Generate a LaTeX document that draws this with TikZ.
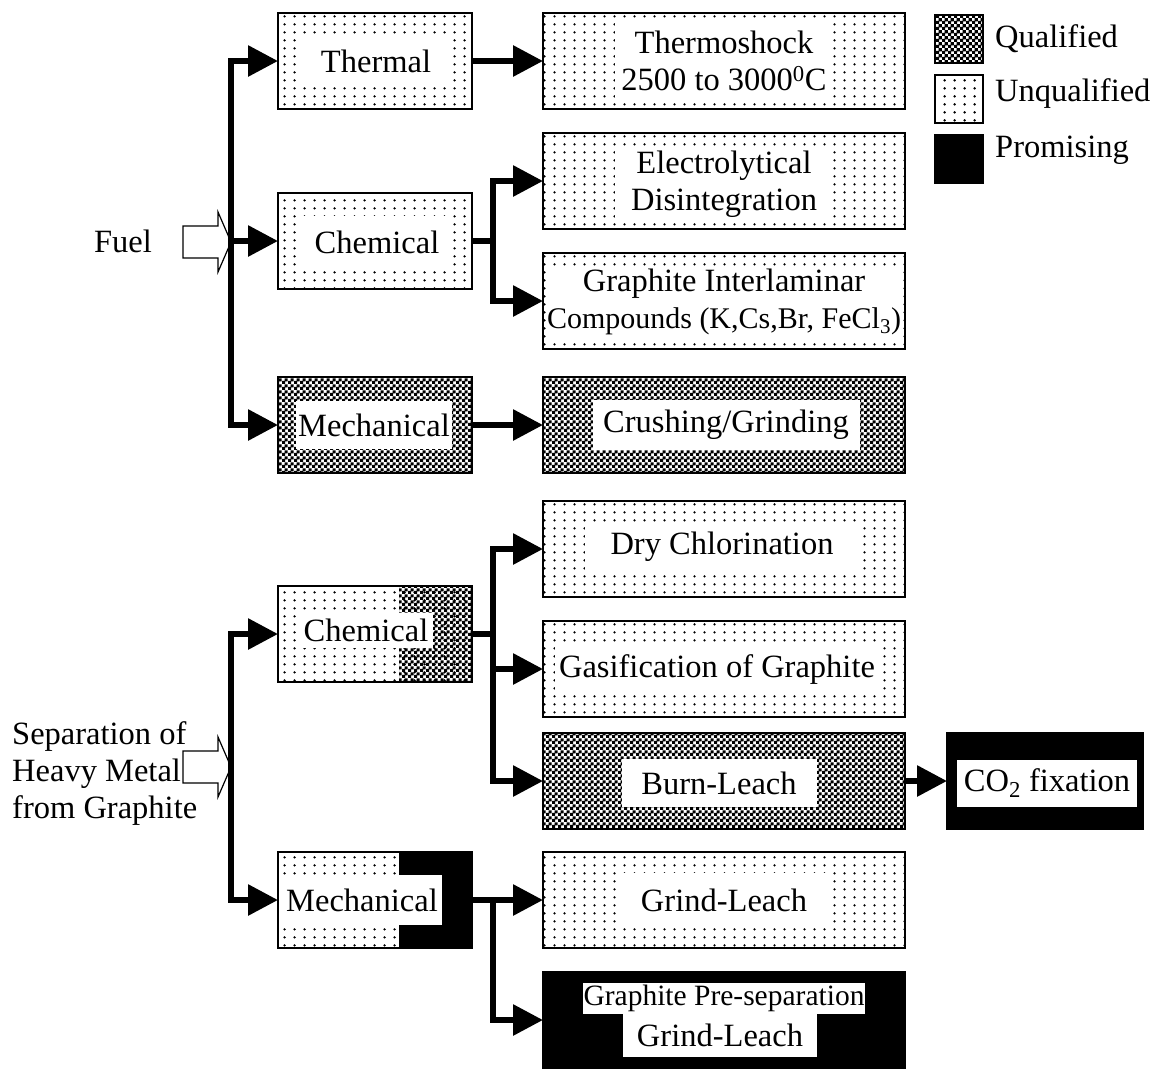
\documentclass[tikz,border=0pt]{standalone}
\usepackage{fontspec}
\setmainfont{Liberation Serif}
\usetikzlibrary{arrows.meta,patterns.meta}

\pgfdeclarepattern{
  name=dotfill, type=uncolored,
  bottom left={\pgfpoint{0pt}{0pt}},
  top right={\pgfpoint{10pt}{8pt}},
  tile size={\pgfpoint{10pt}{8pt}},
  code={\pgfpathcircle{\pgfpoint{5pt}{4pt}}{1.4pt}\pgfusepath{fill}}
}
\pgfdeclarepattern{
  name=checkfill, type=uncolored,
  bottom left={\pgfpoint{0pt}{0pt}},
  top right={\pgfpoint{6pt}{6pt}},
  tile size={\pgfpoint{6pt}{6pt}},
  code={\pgfpathrectangle{\pgfpointorigin}{\pgfpoint{3.6pt}{3.6pt}}%
        \pgfpathrectangle{\pgfpoint{3pt}{3pt}}{\pgfpoint{3.6pt}{3.6pt}}%
        \pgfpathrectangle{\pgfpoint{-3pt}{3pt}}{\pgfpoint{0.6pt}{3.6pt}}%
        \pgfpathrectangle{\pgfpoint{3pt}{-3pt}}{\pgfpoint{3.6pt}{0.6pt}}%
        \pgfusepath{fill}}
}

\newcommand\mainfs{\fontsize{32.5pt}{37pt}\selectfont}
\newcommand\smallfs{\fontsize{30pt}{34pt}\selectfont}
\newcommand\presfs{\fontsize{29.5pt}{34pt}\selectfont}

\tikzset{
  basebox/.style={draw=black, line width=1.5pt, minimum height=96pt, inner sep=0pt, outer sep=0pt},
  nar/.style={basebox, minimum width=194pt},
  wid/.style={basebox, minimum width=362pt},
  unq/.style={preaction={fill=white}, pattern=dotfill},
  qual/.style={preaction={fill=white}, pattern=checkfill},
  prom/.style={fill=black},
  lab/.style={fill=white, inner sep=0pt, align=center, font=\mainfs},
  plain/.style={inner sep=0pt, align=center, font=\mainfs},
  conn/.style={line width=6pt},
  arr/.style={conn, -{Triangle[length=30pt,width=30pt]}},
  hollow/.style={draw=black, line width=1.2pt, fill=white},
  legbox/.style={draw=black, line width=1.5pt, minimum width=48pt, minimum height=48pt, inner sep=0pt}
}

\begin{document}
\begin{tikzpicture}[x=1pt, y=-1pt]
\useasboundingbox (0,0) rectangle (1153,1068);
\fill[white] (0,0) rectangle (1153,1068);

% ---------- boxes: Fuel part ----------
\node[nar, unq]  (thermal) at (375,61)  {};
\node[nar, unq]  (chemA)   at (375,241) {};
\node[nar, qual] (mechA)   at (375,425) {};
\node[wid, unq]  (shock)   at (724,61)  {};
\node[wid, unq]  (elec)    at (724,181) {};
\node[wid, unq]  (gic)     at (724,301) {};
\node[wid, qual] (crush)   at (724,425) {};

% ---------- boxes: Separation part ----------
\node[nar, unq]  (chemB)   at (375,634) {};
\fill[pattern=checkfill] (399,586) rectangle (472,682);
\draw[line width=1.5pt] (chemB.north west) rectangle (chemB.south east);
\node[nar, unq]  (mechB)   at (375,900) {};
\fill[black] (399,852) rectangle (472,948);
\draw[line width=1.5pt] (mechB.north west) rectangle (mechB.south east);
\node[wid, unq]  (dry)     at (724,549) {};
\node[wid, unq]  (gas)     at (724,669) {};
\node[wid, qual] (burn)    at (724,781) {};
\node[basebox, prom, minimum width=196pt] (co2) at (1045,781) {};
\node[wid, unq]  (grind)   at (724,900) {};
\node[wid, prom] (pre)     at (724,1020) {};

% ---------- labels ----------
\node[lab, minimum width=153pt, minimum height=47pt] (tThermal) at (376,61) {Thermal};
\node[lab, minimum width=151pt, minimum height=53pt] (tChemA) at (377,242) {Chemical};
\node[lab, minimum width=156pt, minimum height=48pt] (tMechA) at (374,425) {Mechanical};
\node[lab, minimum width=218pt, minimum height=77pt] (tShock) at (724,61) {Thermoshock\\2500 to 3000\textsuperscript{0}C};
\node[lab, minimum width=218pt, minimum height=74pt] (tElec) at (724,184) {Electrolytical\\Disintegration};
\node[lab, minimum width=346pt, minimum height=72pt] (tGic) at (724,302) {Graphite Interlaminar\\\smallfs Compounds (K,Cs,Br, FeCl\textsubscript{3})};
\node[lab, minimum width=267pt, minimum height=50pt] (tCrush) at (726,425) {Crushing/Grinding};

\node[lab, minimum width=133pt, minimum height=35pt] (tChemB) at (366,630) {Chemical};
\node[lab, minimum width=160pt, minimum height=50pt] (tMechB) at (362,900) {Mechanical};
\node[lab, minimum width=275pt, minimum height=50pt] (tDry) at (722,547) {Dry Chlorination};
\node[lab, minimum width=325pt, minimum height=46pt] (tGas) at (717,670) {Gasification of Graphite};
\node[lab, minimum width=195pt, minimum height=48pt] (tBurn) at (719,783) {Burn-Leach};
\node[lab, minimum width=180pt, minimum height=47pt] (tCo2) at (1047,783) {CO\textsubscript{2} fixation};
\node[lab, minimum width=216pt, minimum height=55pt] (tGrind) at (724,900) {Grind-Leach};
\node[lab, font=\presfs, minimum width=282pt, minimum height=31pt] (tPre1) at (724,998) {Graphite Pre-separation};
\node[lab, minimum width=194pt, minimum height=44pt] (tPre2) at (720,1035) {Grind-Leach};

% ---------- inputs ----------
\node[plain] (fuel) at (123,241) {Fuel};
\node[plain, align=left, anchor=west] (sep) at (12,774) {Separation of\\Heavy Metal\\from Graphite};

\draw[hollow] (183,226) -- (218,226) -- (218,212) -- (231,242) -- (218,272) -- (218,258) -- (183,258) -- cycle;
\draw[hollow] (183,751) -- (218,751) -- (218,737) -- (231,767) -- (218,797) -- (218,783) -- (183,783) -- cycle;

% ---------- connectors ----------
\coordinate (tA) at (231,241);
\draw[arr] (tA) |- (thermal.west);
\draw[arr] (tA) -- (chemA.west);
\draw[arr] (tA) |- (mechA.west);
\draw[arr] (thermal.east) -- (shock.west);
\coordinate (jA) at (493,241);
\draw[conn] (chemA.east) -- (jA);
\draw[arr] (jA) |- (elec.west);
\draw[arr] (jA) |- (gic.west);
\draw[arr] (mechA.east) -- (crush.west);

\coordinate (tB) at (231,767);
\draw[arr] (tB) |- (chemB.west);
\draw[arr] (tB) |- (mechB.west);
\coordinate (jB) at (493,634);
\draw[conn] (chemB.east) -- (jB);
\draw[arr] (jB) |- (dry.west);
\draw[arr] (jB) |- (gas.west);
\draw[arr] (jB) |- (burn.west);
\draw[arr] (burn.east) -- (co2.west);
\coordinate (jC) at (493,900);
\draw[conn] (mechB.east) -- (jC);
\draw[arr] (jC) -- (grind.west);
\draw[arr] (jC) |- (pre.west);

% ---------- legend ----------
\node[legbox, qual] (lq) at (959,39)  {};
\node[legbox, unq]  (lu) at (959,99)  {};
\node[legbox, prom] (lp) at (959,159) {};
\node[plain, anchor=west] (tq) at (995,39)  {Qualified};
\node[plain, anchor=west] (tu) at (995,94)  {Unqualified};
\node[plain, anchor=west] (tp) at (995,150) {Promising};
\end{tikzpicture}
\end{document}
